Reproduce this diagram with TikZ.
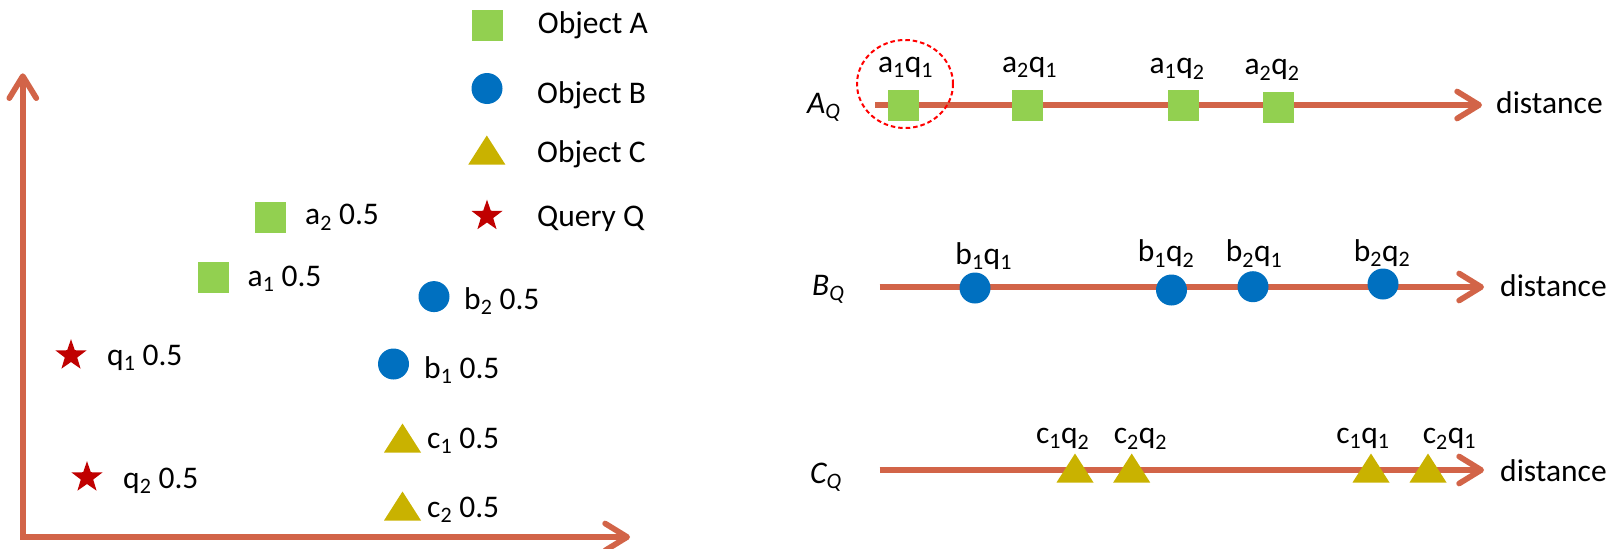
\documentclass[tikz,border=0pt]{standalone}
\usepackage{fontspec}
\setmainfont{Carlito}
\usetikzlibrary{arrows.meta,shapes.geometric}
\definecolor{axiscol}{RGB}{210,100,72}
\definecolor{greenA}{RGB}{146,208,80}
\definecolor{blueB}{RGB}{0,112,192}
\definecolor{oliveC}{RGB}{201,178,0}
\definecolor{redQ}{RGB}{192,0,0}
\definecolor{ringcol}{RGB}{255,0,0}
\tikzset{
  axisline/.style={draw=axiscol, line width=5.7pt, arrows={-Straight Barb[length=22pt,width=27pt,round]}},
  axisboth/.style={draw=axiscol, line width=5.7pt, arrows={Straight Barb[length=22pt,width=27pt,round]-Straight Barb[length=22pt,width=27pt,round]}},
  sqA/.style={rectangle, fill=greenA, minimum size=31pt, inner sep=0pt},
  cirB/.style={circle, fill=blueB, minimum size=31pt, inner sep=0pt},
  starQ/.style={star, star points=5, star point ratio=2.5, fill=redQ, minimum size=32.6pt, inner sep=0pt},
  tri/.pic={\fill[oliveC] (-18.5,14.5) -- (18.5,14.5) -- (0,-14.5) -- cycle;},
  lbl/.style={anchor=base west},
  plbl/.style={anchor=base},
  ring/.style={ellipse, draw=ringcol, line width=2pt, dash pattern=on 4.5pt off 3pt, minimum width=96pt, minimum height=88pt, inner sep=0pt}
}
\begin{document}
\begin{tikzpicture}[x=1pt,y=-1pt, every node/.style={font=\fontsize{31.5}{38}\selectfont, inner sep=0pt}]
\useasboundingbox (0,0) rectangle (1623,549);

% ---------- left panel: axes ----------
\coordinate (ytop) at (22.8,73.3);
\coordinate (xend) at (630,537);
\draw[axisboth] (ytop) |- (xend);

% legend
\node[sqA] (legA) at (487,25) {};
\node[lbl] (legAt) at (537.7,33.3) {Object A};
\node[cirB] (legB) at (487,88.5) {};
\node[lbl] (legBt) at (537,103) {Object B};
\pic at (486.8,150) {tri};
\coordinate (legC) at (486.8,150);
\node[lbl] (legCt) at (537,162) {Object C};
\node[starQ] (legQ) at (487,216) {};
\node[lbl] (legQt) at (537,226) {Query Q};

% points
\node[sqA] (a2) at (270,217) {};
\node[lbl] (a2t) at (305,224.8) {a\textsubscript{2} 0.5};
\node[sqA] (a1) at (213,277.7) {};
\node[lbl] (a1t) at (247.5,286) {a\textsubscript{1} 0.5};
\node[cirB] (b2) at (434,296.6) {};
\node[lbl] (b2t) at (464,309) {b\textsubscript{2} 0.5};
\node[cirB] (b1) at (393.5,364) {};
\node[lbl] (b1t) at (424,378) {b\textsubscript{1} 0.5};
\pic at (402.5,438) {tri};
\coordinate (c1) at (402.5,438);
\node[lbl] (c1t) at (427,448) {c\textsubscript{1} 0.5};
\pic at (402.5,506) {tri};
\coordinate (c2) at (402.5,506);
\node[lbl] (c2t) at (427,517) {c\textsubscript{2} 0.5};
\node[starQ] (q1) at (71,355.5) {};
\node[lbl] (q1t) at (107,365) {q\textsubscript{1} 0.5};
\node[starQ] (q2) at (87,477.5) {};
\node[lbl] (q2t) at (123,488) {q\textsubscript{2} 0.5};

% ---------- right panel ----------
% A_Q
\coordinate (As) at (875,105);
\coordinate (Ae) at (1482,105);
\draw[axisline] (As) -- (Ae);
\node[lbl] (AQ) at (807,113) {\textit{A\textsubscript{Q}}};
\node[lbl] (Ad) at (1496,113) {distance};
\node[sqA] (a1q1) at (903,105) {};
\node[sqA] (a2q1) at (1027,105) {};
\node[sqA] (a1q2) at (1183,105) {};
\node[sqA] (a2q2) at (1278,107) {};
\node[plbl] (a1q1t) at (905.5,72) {a\textsubscript{1}q\textsubscript{1}};
\node[plbl] (a2q1t) at (1029.5,72) {a\textsubscript{2}q\textsubscript{1}};
\node[plbl] (a1q2t) at (1177,73.3) {a\textsubscript{1}q\textsubscript{2}};
\node[plbl] (a2q2t) at (1272,74.3) {a\textsubscript{2}q\textsubscript{2}};
\node[ring] (hl) at (905,84) {};

% B_Q
\coordinate (Bs) at (879.5,287);
\coordinate (Be) at (1484,287);
\draw[axisline] (Bs) -- (Be);
\node[lbl] (BQ) at (812,295) {\textit{B\textsubscript{Q}}};
\node[lbl] (Bd) at (1500,296) {distance};
\node[cirB] (b1q1) at (975,288) {};
\node[cirB] (b1q2) at (1171.5,290) {};
\node[cirB] (b2q1) at (1253,286.7) {};
\node[cirB] (b2q2) at (1383,284) {};
\node[plbl] (b1q1t) at (983.7,264) {b\textsubscript{1}q\textsubscript{1}};
\node[plbl] (b1q2t) at (1166,261.7) {b\textsubscript{1}q\textsubscript{2}};
\node[plbl] (b2q1t) at (1254,261.7) {b\textsubscript{2}q\textsubscript{1}};
\node[plbl] (b2q2t) at (1382,261) {b\textsubscript{2}q\textsubscript{2}};

% C_Q
\coordinate (Cs) at (879.5,470);
\coordinate (Ce) at (1484,470);
\draw[axisline] (Cs) -- (Ce);
\node[lbl] (CQ) at (810,483) {\textit{C\textsubscript{Q}}};
\node[lbl] (Cd) at (1500,481) {distance};
\pic at (1075,468) {tri};
\pic at (1131.7,468) {tri};
\pic at (1371,468) {tri};
\pic at (1428,468) {tri};
\node[plbl] (c1q2t) at (1062.7,443.3) {c\textsubscript{1}q\textsubscript{2}};
\node[plbl] (c2q2t) at (1140.5,443.3) {c\textsubscript{2}q\textsubscript{2}};
\node[plbl] (c1q1t) at (1363,443.3) {c\textsubscript{1}q\textsubscript{1}};
\node[plbl] (c2q1t) at (1449.5,443.3) {c\textsubscript{2}q\textsubscript{1}};
\end{tikzpicture}
\end{document}
